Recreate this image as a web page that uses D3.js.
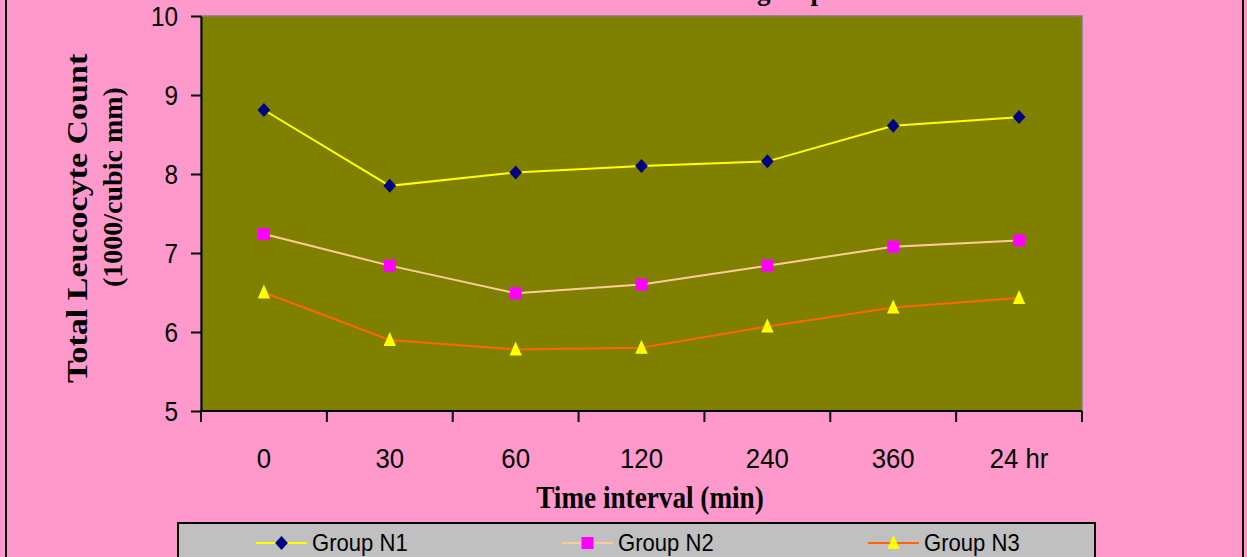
<!DOCTYPE html>
<html>
<head>
<meta charset="utf-8">
<script src="https://cdn.jsdelivr.net/npm/d3@7"></script>
<style>
  html, body { margin: 0; padding: 0; background: #FF99CC; overflow: hidden; }
</style>
</head>
<body>
<script>
// DATA
const categories = ['0', '30', '60', '120', '240', '360', '24 hr'];
const groupN1 = [8.81, 7.85, 8.02, 8.10, 8.16, 8.61, 8.72];
const groupN2 = [7.24, 6.84, 6.49, 6.60, 6.84, 7.08, 7.16];
const groupN3 = [6.50, 5.90, 5.78, 5.80, 6.07, 6.31, 6.43];
const seriesNames = ['Group N1', 'Group N2', 'Group N3'];
const yTicks = [5, 6, 7, 8, 9, 10];

// CONFIGURATION
const width = 1247;
const height = 557;
const plot = { left: 201, right: 1082, top: 16, bottom: 411 };
const diamond = 'M0,-7L6.4,0L0,7L-6.4,0Z';
const square = 'M-6,-6L6,-6L6,6L-6,6Z';
const triangle = 'M0,-8L6.2,6L-6.2,6Z';
const series = [
  { name: seriesNames[0], values: groupN1, line: '#FFFF00', fill: '#000080', shape: diamond },
  { name: seriesNames[1], values: groupN2, line: '#FFCC99', fill: '#FF00FF', shape: square },
  { name: seriesNames[2], values: groupN3, line: '#FF6600', fill: '#FFFF00', shape: triangle }
];

const xScale = d3.scaleBand()
  .domain(categories)
  .range([plot.left, plot.right]);
const yScale = d3.scaleLinear()
  .domain([5, 10])
  .range([plot.bottom, plot.top]);
const xc = function(c) { return xScale(c) + xScale.bandwidth() / 2; };

const svg = d3.select('body')
  .append('svg')
  .attr('width', width)
  .attr('height', height);

// BACKGROUND + BORDER
svg.append('rect')
  .attr('x', 6).attr('y', -10)
  .attr('width', 1237).attr('height', height + 20)
  .attr('fill', '#FF99CC')
  .attr('stroke', '#000')
  .attr('stroke-width', 2);

// TITLE (cut off at the top, as in the original)
svg.append('text')
  .attr('transform', 'translate(836,0) scale(0.9,1)')
  .attr('text-anchor', 'end')
  .attr('font-family', 'Liberation Serif, Times New Roman, serif')
  .attr('font-weight', 'bold')
  .attr('font-size', 30)
  .text('intervals in different treatment groups');

// PLOT AREA
svg.append('rect')
  .attr('x', plot.left).attr('y', plot.top)
  .attr('width', plot.right - plot.left)
  .attr('height', plot.bottom - plot.top)
  .attr('fill', '#808000')
  .attr('stroke', '#808080')
  .attr('stroke-width', 1.5);

// Y AXIS
const yAxis = svg.append('g')
  .attr('transform', `translate(${plot.left},0)`)
  .call(d3.axisLeft(yScale).tickValues(yTicks).tickFormat(d3.format('d')).tickSize(10).tickSizeOuter(0));
yAxis.select('.domain').attr('stroke', '#000').attr('stroke-width', 2);
yAxis.selectAll('.tick line').attr('stroke', '#000').attr('stroke-width', 2);
yAxis.selectAll('.tick text')
  .attr('x', 0)
  .attr('dy', '0.36em')
  .attr('transform', 'translate(-23,0) scale(0.9,1)')
  .attr('fill', '#000')
  .attr('font-family', 'Liberation Sans, Arial, sans-serif')
  .attr('font-size', 27);

// X AXIS
const xAxis = svg.append('g');
xAxis.append('line')
  .attr('x1', plot.left - 1).attr('x2', plot.right)
  .attr('y1', plot.bottom).attr('y2', plot.bottom)
  .attr('stroke', '#000').attr('stroke-width', 2);
xAxis.selectAll('.xtick')
  .data(categories.map(function(c) { return xScale(c); }).concat([plot.right]))
  .enter()
  .append('line')
  .attr('class', 'xtick')
  .attr('x1', function(d) { return d; })
  .attr('x2', function(d) { return d; })
  .attr('y1', plot.bottom)
  .attr('y2', plot.bottom + 11)
  .attr('stroke', '#000').attr('stroke-width', 2);
xAxis.selectAll('.xlabel')
  .data(categories)
  .enter()
  .append('text')
  .attr('class', 'xlabel')
  .attr('transform', function(d) { return `translate(${xc(d)},468) scale(0.92,1)`; })
  .attr('text-anchor', 'middle')
  .attr('font-family', 'Liberation Sans, Arial, sans-serif')
  .attr('font-size', 28)
  .text(function(d) { return d; });

// AXIS TITLES
svg.append('text')
  .attr('transform', 'translate(650,508) scale(0.85,1)')
  .attr('text-anchor', 'middle')
  .attr('font-family', 'Liberation Serif, Times New Roman, serif')
  .attr('font-weight', 'bold')
  .attr('font-size', 32)
  .text('Time interval (min)');
svg.append('text')
  .attr('transform', 'translate(87,383) scale(0.85,1) rotate(-90)')
  .attr('text-anchor', 'start')
  .attr('font-family', 'Liberation Serif, Times New Roman, serif')
  .attr('font-weight', 'bold')
  .attr('font-size', 34)
  .text('Total Leucocyte Count');
svg.append('text')
  .attr('transform', 'translate(122,287) rotate(-90)')
  .attr('text-anchor', 'start')
  .attr('font-family', 'Liberation Serif, Times New Roman, serif')
  .attr('font-weight', 'bold')
  .attr('font-size', 28)
  .text('(1000/cubic mm)');

// LINES + MARKERS
const line = d3.line()
  .x(function(d, i) { return xc(categories[i]); })
  .y(function(d) { return yScale(d); });

series.forEach(function(s) {
  svg.append('path')
    .datum(s.values)
    .attr('d', line)
    .attr('fill', 'none')
    .attr('stroke', s.line)
    .attr('stroke-width', 2);
  svg.selectAll(null)
    .data(s.values)
    .enter()
    .append('path')
    .attr('d', s.shape)
    .attr('transform', function(d, i) { return `translate(${xc(categories[i])},${yScale(d)})`; })
    .attr('fill', s.fill);
});

// LEGEND
const legend = svg.append('g');
legend.append('rect')
  .attr('x', 178).attr('y', 523)
  .attr('width', 917).attr('height', 50)
  .attr('fill', '#C0C0C0')
  .attr('stroke', '#000')
  .attr('stroke-width', 2);
const legendX = [256, 562, 868];
series.forEach(function(s, i) {
  const g = legend.append('g').attr('transform', `translate(${legendX[i]},543)`);
  g.append('line')
    .attr('x1', 0).attr('x2', 51)
    .attr('stroke', s.line).attr('stroke-width', 2);
  g.append('path')
    .attr('d', s.shape)
    .attr('transform', 'translate(25.5,0)')
    .attr('fill', s.fill);
  g.append('text')
    .attr('transform', 'translate(56,8) scale(0.92,1)')
    .attr('font-family', 'Liberation Sans, Arial, sans-serif')
    .attr('font-size', 24)
    .text(s.name);
});
</script>
</body>
</html>
